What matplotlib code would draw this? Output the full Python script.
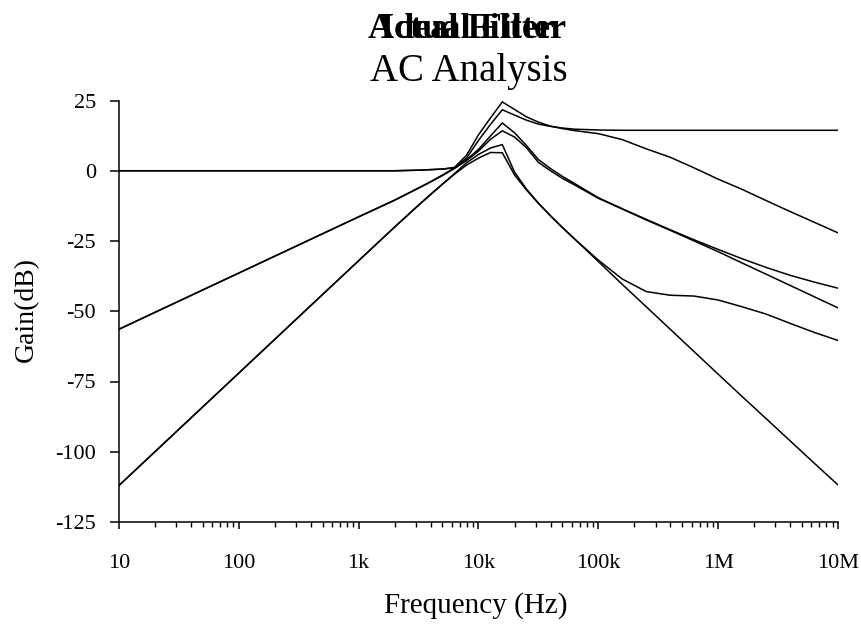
import matplotlib
matplotlib.use("Agg")
import matplotlib.pyplot as plt
from matplotlib.ticker import FixedLocator, LogLocator, NullFormatter

plt.rcParams['font.family'] = ['Liberation Serif', 'DejaVu Serif']
plt.rcParams['axes.unicode_minus'] = False

# Sweep frequencies (Hz)
freq_hz = [10, 31.6, 100, 316, 1e3, 2e3, 3.16e3, 3.98e3, 5.01e3, 6.31e3,
           7.94e3, 10e3, 12.6e3, 15.8e3, 20e3, 25.1e3, 31.6e3, 39.8e3,
           50.1e3, 63.1e3, 100e3, 158e3, 251e3, 398e3, 631e3, 1e6,
           1.58e6, 2.51e6, 3.98e6, 6.31e6, 10e6]

# Gain (dB) of each response
shelf_actual = [0, 0, 0, 0, 0, 0, 0.2, 0.4, 0.6, 1.2,
                5.5, 12.8, 18.8, 24.5, 21.8, 19.2, 17.3, 15.9,
                15.0, 14.3, 13.2, 11.1, 7.8, 4.8, 1.0, -3.0,
                -6.6, -10.6, -14.5, -18.3, -22.1]
shelf_ideal = [0, 0, 0, 0, 0, 0, 0.2, 0.4, 0.6, 1.0,
               4.5, 10.8, 16.5, 21.7, 19.8, 18.0, 16.6, 15.8,
               15.2, 14.8, 14.5, 14.4, 14.4, 14.4, 14.4, 14.4,
               14.4, 14.4, 14.4, 14.4, 14.4]
bp2_actual = [-56.4, -46.4, -36.4, -26.4, -16.4, -10.4, -6.1, -3.9, -1.5, 1.0,
              3.9, 7.6, 12.4, 17.0, 13.5, 9.0, 4.0, 0.8,
              -2.0, -4.5, -9.6, -13.5, -17.3, -21.0, -24.6, -28.0,
              -31.3, -34.4, -37.2, -39.6, -41.8]
bp2_ideal = [-56.4, -46.4, -36.4, -26.4, -16.4, -10.5, -6.2, -4.0, -1.7, 0.8,
             3.6, 7.0, 11.2, 14.2, 12.0, 8.2, 3.0, 0.0,
             -2.7, -5.0, -9.8, -13.6, -17.5, -21.2, -25.0, -28.8,
             -32.8, -36.8, -40.8, -44.8, -48.8]
bp4_actual = [-112, -92, -72, -52, -32, -20, -12.2, -8.4, -4.7, -1.0,
              2.8, 5.8, 8.1, 9.3, -0.5, -6.5, -11.5, -16.0,
              -20.2, -24.2, -31.8, -38.5, -43.0, -44.3, -44.6, -46.0,
              -48.4, -51.0, -54.3, -57.5, -60.4]
bp4_ideal = [-112, -92, -72, -52, -32, -20, -12.3, -8.5, -4.8, -1.2,
             2.0, 4.5, 6.5, 6.4, -1.5, -6.8, -11.6, -16.0,
             -20.2, -24.2, -32.3, -40.4, -48.4, -56.4, -64.4, -72.4,
             -80.3, -88.2, -96.1, -104.0, -111.8]

x_ticks = [10, 100, 1e3, 1e4, 1e5, 1e6, 1e7]
x_tick_labels = ['10', '100', '1k', '10k', '100k', '1M', '10M']
y_ticks = [25, 0, -25, -50, -75, -100, -125]

W, H = 862, 624
fig = plt.figure(figsize=(W / 100, H / 100), dpi=100)
ax = fig.add_axes([119 / W, 1 - 522 / H, (838 - 119) / W, (522 - 100.5) / H])

for gains in (shelf_ideal, shelf_actual, bp2_ideal, bp2_actual,
              bp4_ideal, bp4_actual):
    ax.plot(freq_hz, gains, color='black', lw=1.1, solid_joinstyle='miter')

ax.set_xscale('log')
ax.set_xlim(10, 1e7)
ax.set_ylim(-125, 25)

ax.xaxis.set_major_locator(FixedLocator(x_ticks))
ax.set_xticklabels(x_tick_labels)
ax.xaxis.set_minor_locator(LogLocator(base=10, subs=range(2, 10), numticks=20))
ax.xaxis.set_minor_formatter(NullFormatter())
ax.set_yticks(y_ticks)
ax.set_yticklabels([str(v) for v in y_ticks])

for side in ('top', 'right'):
    ax.spines[side].set_visible(False)
for side in ('left', 'bottom'):
    ax.spines[side].set_linewidth(1.1)

ax.tick_params(axis='x', which='major', direction='out', length=4.7,
               width=1.1, pad=18, labelsize=16)
ax.tick_params(axis='x', which='minor', direction='out', length=3.4,
               width=1.0)
ax.tick_params(axis='y', which='major', direction='out', length=6.5,
               width=1.1, pad=10, labelsize=16)

fig.text(476 / W, 1 - 613 / H, 'Frequency (Hz)', ha='center',
         va='baseline', fontsize=21)
fig.text(26 / W, 1 - 310 / H, 'Gain(dB)', ha='center', va='center',
         rotation=90, fontsize=20)

# Two overlaid title strings, then the subtitle
fig.text(467 / W, 1 - 38.5 / H, 'Actual Filter', ha='center',
         va='baseline', fontsize=26, fontweight='bold')
fig.text(467 / W, 1 - 38.5 / H, 'Ideal Filter', ha='center',
         va='baseline', fontsize=26, fontweight='bold')
fig.text(469 / W, 1 - 81 / H, 'AC Analysis', ha='center',
         va='baseline', fontsize=28)

fig.savefig('out.png', dpi=100)
